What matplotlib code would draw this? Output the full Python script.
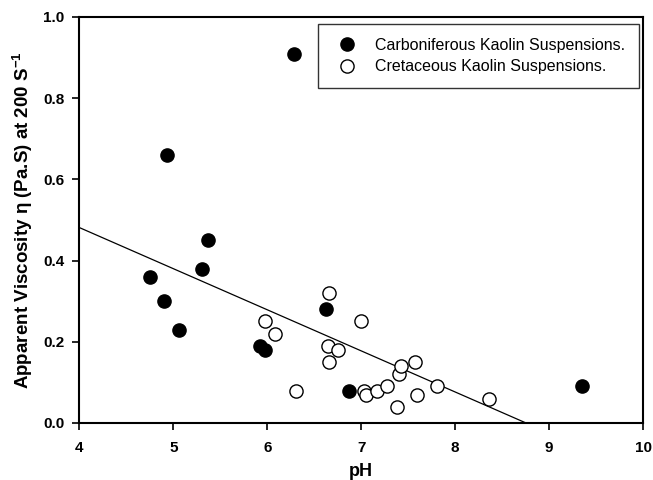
import numpy as np
import matplotlib
matplotlib.use("Agg")
import matplotlib.pyplot as plt

plt.rcParams['font.family'] = ['Liberation Sans', 'DejaVu Sans']
plt.rcParams['mathtext.fontset'] = 'custom'
plt.rcParams['mathtext.rm'] = 'Liberation Sans'
plt.rcParams['mathtext.bf'] = 'Liberation Sans:bold'

# Carboniferous kaolin suspensions
carb_ph = [6.28, 4.93, 5.37, 5.30, 4.75, 4.90, 5.06, 5.92, 5.98, 6.62, 6.87, 9.35]
carb_visc = [0.91, 0.66, 0.45, 0.38, 0.36, 0.30, 0.23, 0.19, 0.18, 0.28, 0.08, 0.09]

# Cretaceous kaolin suspensions
cret_ph = [5.98, 6.08, 6.31, 6.66, 6.65, 6.75, 6.66, 7.00, 7.03, 7.05, 7.17,
           7.27, 7.38, 7.40, 7.42, 7.57, 7.59, 7.81, 8.36]
cret_visc = [0.25, 0.22, 0.08, 0.32, 0.19, 0.18, 0.15, 0.25, 0.08, 0.07, 0.08,
             0.09, 0.04, 0.12, 0.14, 0.15, 0.07, 0.09, 0.06]

# Linear trend: viscosity = intercept + slope * pH
fit_intercept = 0.886
fit_slope = -0.1012

x_ticks = [4, 5, 6, 7, 8, 9, 10]
y_ticks = [0.0, 0.2, 0.4, 0.6, 0.8, 1.0]

fig = plt.figure(figsize=(6.53, 4.80), dpi=100)
ax = fig.add_axes([0.1217, 0.11875, 0.863, 0.8459])

x_fit = np.array([4.0, -fit_intercept / fit_slope])
ax.plot(x_fit, fit_intercept + fit_slope * x_fit, color='black', lw=0.9, zorder=2)

ax.plot(carb_ph, carb_visc, 'o', ms=9.5, mfc='black', mec='black', mew=1.0,
        ls='none', label='Carboniferous Kaolin Suspensions.', zorder=3)
ax.plot(cret_ph, cret_visc, 'o', ms=9.5, mfc='white', mec='black', mew=1.0,
        ls='none', label='Cretaceous Kaolin Suspensions.', zorder=3)

ax.set_xlim(4, 10)
ax.set_ylim(0, 1.0)
ax.set_xticks(x_ticks)
ax.set_yticks(y_ticks)
ax.set_xticklabels([str(t) for t in x_ticks], fontweight='bold', fontsize=11)
ax.set_yticklabels([f"{t:.1f}" for t in y_ticks], fontweight='bold', fontsize=11)
ax.tick_params(axis='x', direction='out', length=5, width=1.2, pad=8)
ax.tick_params(axis='y', direction='out', length=5, width=1.2, pad=6)

for sp in ax.spines.values():
    sp.set_linewidth(1.5)

ax.set_xlabel('pH', fontweight='bold', fontsize=13, labelpad=6)
ax.set_ylabel('Apparent Viscosity η (Pa.S) at 200 S$^{\\mathbf{-1}}$',
              fontweight='bold', fontsize=13.5, labelpad=6)

leg = ax.legend(loc='upper right', bbox_to_anchor=(0.9929, 0.9828), fontsize=11.5,
                frameon=True, fancybox=False, edgecolor='black',
                handletextpad=0.76, borderpad=0.85, labelspacing=0.42,
                handlelength=2.0, borderaxespad=0.0)
leg.get_frame().set_linewidth(1.0)

fig.savefig('out.png', dpi=100)
